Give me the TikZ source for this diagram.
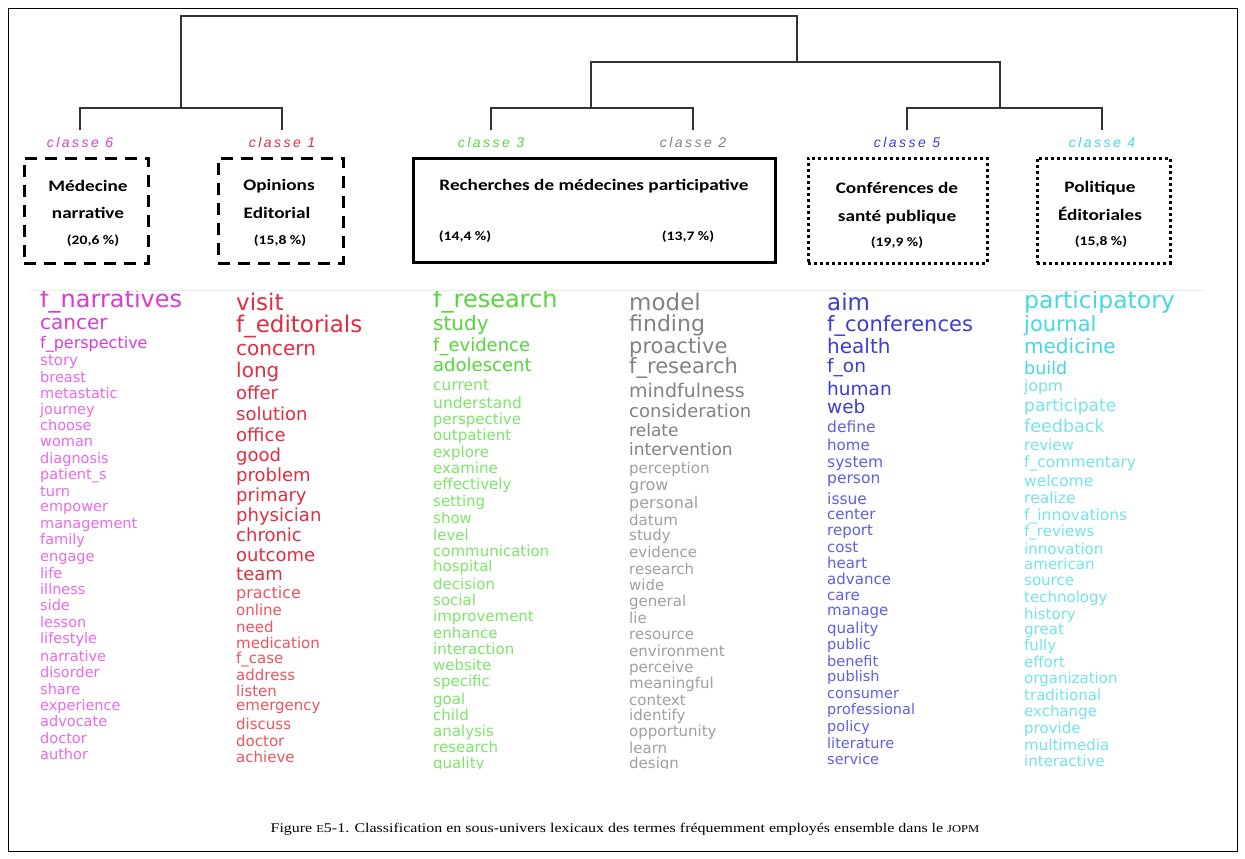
\documentclass[tikz,border=0pt]{standalone}
\usepackage{fontspec}
\setmainfont{Liberation Serif}
\newfontfamily\wfont{DejaVu Sans}
\newfontfamily\bfont{Carlito}
\newfontfamily\clfont[LetterSpace=18]{Liberation Sans}
\definecolor{cAs}{RGB}{215,60,215}\definecolor{cAl}{RGB}{235,105,235}
\definecolor{cBs}{RGB}{225,45,65}\definecolor{cBl}{RGB}{235,85,95}
\definecolor{cCs}{RGB}{85,215,60}\definecolor{cCl}{RGB}{125,230,105}
\definecolor{cDs}{RGB}{130,130,130}\definecolor{cDl}{RGB}{160,160,160}
\definecolor{cEs}{RGB}{60,60,215}\definecolor{cEl}{RGB}{95,95,225}
\definecolor{cFs}{RGB}{70,215,230}\definecolor{cFl}{RGB}{115,228,235}
\definecolor{tree}{RGB}{50,50,50}
\newcommand\hs[1]{\scalebox{1.2}[1]{#1}}
\newcommand\fsc[1]{{\fontsize{10.5}{10.5}\selectfont #1}}
\tikzset{
  treeline/.style={draw=tree, line width=1.4pt},
  clabel/.style={font=\clfont\itshape\fontsize{14}{14}\selectfont, inner sep=0},
  boxa/.style={draw=black, line width=3pt, dash pattern=on 12pt off 8pt, minimum height=105pt, inner sep=0},
  boxb/.style={draw=black, line width=3pt, minimum height=104pt, inner sep=0},
  boxc/.style={draw=black, line width=3pt, dash pattern=on 3pt off 3pt, minimum height=105pt, inner sep=0},
  btitle/.style={font=\bfont\bfseries\fontsize{16}{16}\selectfont, inner sep=0},
  bpct/.style={font=\bfont\bfseries\fontsize{13}{13}\selectfont, inner sep=0},
  word/.style={anchor=mid west, inner sep=0},
}
\begin{document}
\begin{tikzpicture}[x=1pt,y=-1pt]
\useasboundingbox (0,0) rectangle (1245,859);
\fill[white] (0,0) rectangle (1245,859);
\draw[line width=0.8pt] (8,8) rectangle (1237,851);

% class labels
\node[clabel, text=cAs] (l6) at (80,142) {classe 6};
\node[clabel, text=cBs] (l1) at (282,142) {classe 1};
\node[clabel, text=cCs] (l3) at (491,142) {classe 3};
\node[clabel, text=cDs] (l2) at (693,142) {classe 2};
\node[clabel, text=cEs] (l5) at (907,142) {classe 5};
\node[clabel, text=cFs] (l4) at (1102,142) {classe 4};

% dendrogram
\coordinate (top) at (181,16);
\coordinate (topR) at (797,16);
\coordinate (jL) at (181,108);
\coordinate (jR) at (797,62);
\coordinate (jRa) at (591,62);
\coordinate (jRb) at (1000,62);
\coordinate (jRa2) at (591,108);
\coordinate (jRb2) at (1000,108);
\draw[treeline] (jL) -- (top) -- (topR) -- (jR);
\draw[treeline] (80,130) -- (80,108) -- (282,108) -- (282,130);
\draw[treeline] (jRa2) -- (jRa) -- (jRb) -- (jRb2);
\draw[treeline] (491,130) -- (491,108) -- (693,108) -- (693,130);
\draw[treeline] (907,130) -- (907,108) -- (1102,108) -- (1102,130);

% boxes
\node[boxa, minimum width=124pt] (b1) at (86,210.5) {};
\node[boxa, minimum width=125pt] (b2) at (280.5,210.5) {};
\node[boxb, minimum width=362pt] (b3) at (594,210) {};
\node[boxc, minimum width=179pt] (b4) at (897.5,210.5) {};
\node[boxc, minimum width=133pt] (b5) at (1103.5,210.5) {};

\node[btitle] (t1a) at (88,186) {\hs{Médecine}};
\node[btitle] (t1b) at (88,213) {\hs{narrative}};
\node[bpct] (p1) at (93,241) {\hs{(20,6 \%)}};
\node[btitle] (t2a) at (279,186) {\hs{Opinions}};
\node[btitle] (t2b) at (277,213) {\hs{Editorial}};
\node[bpct] (p2) at (280,241) {\hs{(15,8 \%)}};
\node[btitle] (t3) at (594,186) {\hs{Recherches de médecines participative}};
\node[bpct] (p3a) at (465,237) {\hs{(14,4 \%)}};
\node[bpct] (p3b) at (688,237) {\hs{(13,7 \%)}};
\node[btitle] (t4a) at (897,188) {\hs{Conférences de}};
\node[btitle] (t4b) at (897,217) {\hs{santé publique}};
\node[bpct] (p4) at (897,243) {\hs{(19,9 \%)}};
\node[btitle] (t5a) at (1100,188) {\hs{Politique}};
\node[btitle] (t5b) at (1100,214) {\hs{Éditoriales}};
\node[bpct] (p5) at (1101,242) {\hs{(15,8 \%)}};

\draw[black!8, line width=0.6pt] (30,290) -- (1205,290);

\begin{scope}
\clip (20,291) rectangle (1215,768);
% column 1
\foreach \ya/\fa/\ca/\wa [count=\i] in {
305/24/cAs/f\_narratives, 327/20/cAs/cancer, 346/16/cAs/f\_perspective, 363/15/cAl/story,
380/14.5/cAl/breast, 396/14.5/cAl/metastatic, 412/14.5/cAl/journey, 428/14.5/cAl/choose,
444/14.5/cAl/woman, 461/14.5/cAl/diagnosis, 477/14.5/cAl/patient\_s, 494/14.5/cAl/turn,
509/14.5/cAl/empower, 526/14.5/cAl/management, 542/14.5/cAl/family, 559/14.5/cAl/engage,
576/14.5/cAl/life, 592/14.5/cAl/illness, 608/14.5/cAl/side, 625/14.5/cAl/lesson,
641/14.5/cAl/lifestyle, 659/14.5/cAl/narrative, 675/14.5/cAl/disorder, 692/14.5/cAl/share,
708/14.5/cAl/experience, 724/14.5/cAl/advocate, 741/14.5/cAl/doctor, 757/14.5/cAl/author}
  \node[word, text=\ca, font=\wfont\fontsize{\fa}{\fa}\selectfont] (wa\i) at (40,\ya) {\wa};
% column 2
\foreach \ya/\fa/\ca/\wa [count=\i] in {
308/23/cBs/visit, 330/23/cBs/f\_editorials, 353/20/cBs/concern, 375/20/cBs/long,
397/18/cBs/offer, 418/18/cBs/solution, 439/18/cBs/office, 459/18/cBs/good,
479/18/cBs/problem, 499/18/cBs/primary, 519/18/cBs/physician, 539/18/cBs/chronic,
559/18/cBs/outcome, 578/18/cBs/team, 596/16/cBl/practice, 613/15/cBl/online,
630/15/cBl/need, 646/15/cBl/medication, 661/15/cBl/f\_case, 678/15/cBl/address,
694/15/cBl/listen, 708/15/cBl/emergency, 727/15/cBl/discuss, 744/15/cBl/doctor,
760/15/cBl/achieve}
  \node[word, text=\ca, font=\wfont\fontsize{\fa}{\fa}\selectfont] (wb\i) at (236,\ya) {\wa};
% column 3
\foreach \ya/\fa/\ca/\wa [count=\i] in {
305/24/cCs/f\_research, 328/20/cCs/study, 349/18/cCs/f\_evidence, 369/18/cCs/adolescent,
388/15.5/cCl/current, 406/15.5/cCl/understand, 422/15/cCl/perspective, 438/15/cCl/outpatient,
455/15/cCl/explore, 471/15/cCl/examine, 487/15/cCl/effectively, 504/15/cCl/setting,
521/15/cCl/show, 538/15/cCl/level, 554/15/cCl/communication, 569/15/cCl/hospital,
587/15/cCl/decision, 603/15/cCl/social, 619/15/cCl/improvement, 636/15/cCl/enhance,
652/15/cCl/interaction, 668/15/cCl/website, 684/15/cCl/specific, 702/15/cCl/goal,
718/15/cCl/child, 734/15/cCl/analysis, 750/15/cCl/research, 766/15/cCl/quality}
  \node[word, text=\ca, font=\wfont\fontsize{\fa}{\fa}\selectfont] (wc\i) at (433,\ya) {\wa};
% column 4
\foreach \ya/\fa/\ca/\wa [count=\i] in {
308/23/cDs/model, 329/22/cDs/finding, 351/21/cDs/proactive, 371/21/cDs/f\_research,
395/19/cDs/mindfulness, 415/18/cDs/consideration, 434/17/cDs/relate, 453/17/cDs/intervention,
471/15/cDl/perception, 488/16/cDl/grow, 506/16/cDl/personal, 523/15/cDl/datum,
538/15/cDl/study, 555/15/cDl/evidence, 572/15/cDl/research, 588/15/cDl/wide,
604/15/cDl/general, 621/15/cDl/lie, 637/15/cDl/resource, 654/15/cDl/environment,
670/15/cDl/perceive, 686/15/cDl/meaningful, 703/15/cDl/context, 718/15/cDl/identify,
734/15/cDl/opportunity, 751/15/cDl/learn, 766/15/cDl/design}
  \node[word, text=\ca, font=\wfont\fontsize{\fa}{\fa}\selectfont] (wd\i) at (629,\ya) {\wa};
% column 5
\foreach \ya/\fa/\ca/\wa [count=\i] in {
308/23/cEs/aim, 329/21/cEs/f\_conferences, 351/20/cEs/health, 370/18.5/cEs/f\_on,
393/18.5/cEs/human, 411/18.5/cEs/web, 430/15.5/cEl/define, 448/15/cEl/home,
465/15.5/cEl/system, 481/15.5/cEl/person, 502/15.5/cEl/issue, 517/15/cEl/center,
533/15/cEl/report, 550/15/cEl/cost, 566/15/cEl/heart, 582/15/cEl/advance,
598/15/cEl/care, 613/15/cEl/manage, 631/15/cEl/quality, 647/14.5/cEl/public,
664/14.5/cEl/benefit, 679/14.5/cEl/publish, 696/14.5/cEl/consumer, 712/14.5/cEl/professional,
729/14.5/cEl/policy, 746/14.5/cEl/literature, 762/14.5/cEl/service}
  \node[word, text=\ca, font=\wfont\fontsize{\fa}{\fa}\selectfont] (we\i) at (827,\ya) {\wa};
% column 6
\foreach \ya/\fa/\ca/\wa [count=\i] in {
306/23.5/cFs/participatory, 329/21/cFs/journal, 351/20/cFs/medicine, 372/17.5/cFs/build,
389/15.5/cFl/jopm, 409/17/cFl/participate, 430/17.5/cFl/feedback, 448/15/cFl/review,
465/15.5/cFl/f\_commentary, 484/15.5/cFl/welcome, 501/15.5/cFl/realize, 518/15.5/cFl/f\_innovations,
534/15/cFl/f\_reviews, 552/15/cFl/innovation, 567/15/cFl/american, 583/15/cFl/source,
600/15/cFl/technology, 617/15/cFl/history, 632/15/cFl/great, 648/15/cFl/fully,
665/15/cFl/effort, 681/15/cFl/organization, 698/15/cFl/traditional, 714/15/cFl/exchange,
731/15/cFl/provide, 748/15/cFl/multimedia, 764/15/cFl/interactive}
  \node[word, text=\ca, font=\wfont\fontsize{\fa}{\fa}\selectfont] (wf\i) at (1024,\ya) {\wa};
\end{scope}

\node[font=\fontsize{13.3}{13.3}\selectfont, inner sep=0] (cap) at (625,829)
  {\hs{Figure \fsc{E}5-1. Classification en sous-univers lexicaux des termes fréquemment employés ensemble dans le \fsc{JOPM}}};
\end{tikzpicture}
\end{document}
